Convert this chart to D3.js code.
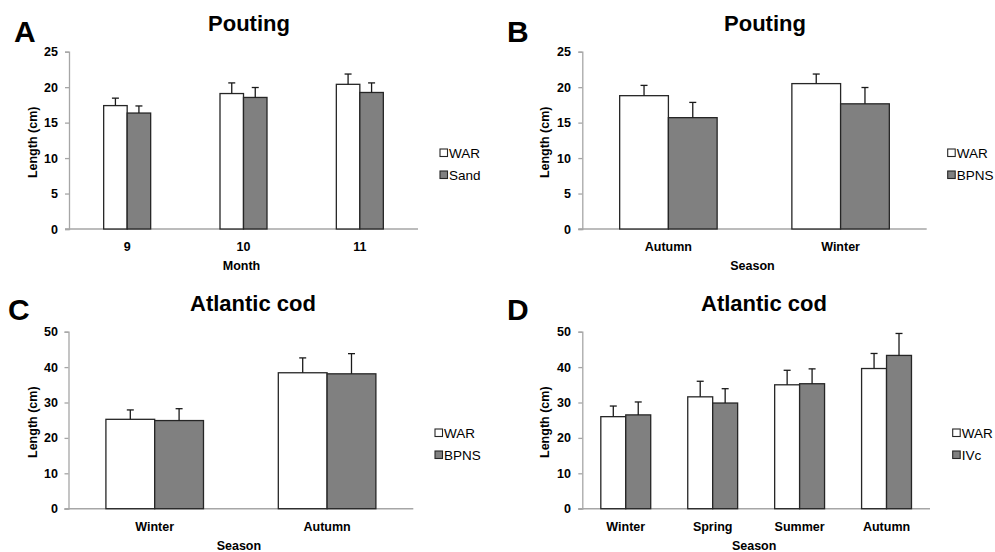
<!DOCTYPE html>
<html><head><meta charset="utf-8">
<script src="https://cdn.jsdelivr.net/npm/d3@7"></script>
<style>
html,body{margin:0;padding:0;background:#fff;}
svg{display:block;font-family:"Liberation Sans",Arial,sans-serif;}
</style></head>
<body><svg id="chart" width="995" height="552"></svg>
<script>
// ---- Data ----
const seriesA = ["WAR", "Sand"];
const catsA = ["9", "10", "11"];
const warA = [17.4, 19.1, 20.4];
const warErrA = [1.05, 1.5, 1.45];
const sandA = [16.35, 18.55, 19.25];
const sandErrA = [1.0, 1.4, 1.35];
const ticksA = [0, 5, 10, 15, 20, 25];

const seriesB = ["WAR", "BPNS"];
const catsB = ["Autumn", "Winter"];
const warB = [18.8, 20.5];
const warErrB = [1.45, 1.35];
const bpnsB = [15.7, 17.65];
const bpnsErrB = [2.15, 2.3];
const ticksB = [0, 5, 10, 15, 20, 25];

const seriesC = ["WAR", "BPNS"];
const catsC = ["Winter", "Autumn"];
const warC = [25.25, 38.4];
const warErrC = [2.65, 4.2];
const bpnsC = [24.9, 38.1];
const bpnsErrC = [3.35, 5.7];
const ticksC = [0, 10, 20, 30, 40, 50];

const seriesD = ["WAR", "IVc"];
const catsD = ["Winter", "Spring", "Summer", "Autumn"];
const warD = [26.0, 31.6, 35.0, 39.6];
const warErrD = [3.0, 4.4, 4.1, 4.25];
const ivcD = [26.5, 29.85, 35.3, 43.3];
const ivcErrD = [3.65, 4.05, 4.2, 6.2];
const ticksD = [0, 10, 20, 30, 40, 50];

// ---- Layout ----
const panels = [
  {letter:"A", title:"Pouting", xLabel:"Month", series:seriesA, cats:catsA, vals:[warA,sandA], errs:[warErrA,sandErrA], ticks:ticksA, yMax:25,
   x0:69, x1:418, yTop:51.7, yZero:229, barFrac:0.202, titleX:249, titleY:31, letterX:14, letterY:42,
   ylabX:33, tickEnd:58, xTickY:247, xLabY:266, legX:440, legY:[153,175]},
  {letter:"B", title:"Pouting", xLabel:"Season", series:seriesB, cats:catsB, vals:[warB,bpnsB], errs:[warErrB,bpnsErrB], ticks:ticksB, yMax:25,
   x0:582.3, x1:926.7, yTop:51.7, yZero:229, barFrac:0.283, titleX:765, titleY:31, letterX:507, letterY:42,
   ylabX:545, tickEnd:571, xTickY:247, xLabY:266, legX:947.7, legY:[153,175]},
  {letter:"C", title:"Atlantic cod", xLabel:"Season", series:seriesC, cats:catsC, vals:[warC,bpnsC], errs:[warErrC,bpnsErrC], ticks:ticksC, yMax:50,
   x0:68.5, x1:413.3, yTop:331.7, yZero:508.7, barFrac:0.283, titleX:253, titleY:310.5, letterX:8, letterY:320,
   ylabX:33, tickEnd:58, xTickY:526.7, xLabY:545.7, legX:435, legY:[433,455]},
  {letter:"D", title:"Atlantic cod", xLabel:"Season", series:seriesD, cats:catsD, vals:[warD,ivcD], errs:[warErrD,ivcErrD], ticks:ticksD, yMax:50,
   x0:582.3, x1:930, yTop:331.7, yZero:508.7, barFrac:0.287, titleX:764, titleY:310.5, letterX:507, letterY:320,
   ylabX:545, tickEnd:571, xTickY:526.7, xLabY:545.7, legX:952.7, legY:[433,455]}
];
const fills = ["#ffffff", "#808080"];
const axisColor = "#a6a6a6";

const svg = d3.select("#chart");

panels.forEach(p => {
  const g = svg.append("g");
  const x = d3.scaleBand().domain(p.cats).range([p.x0, p.x1]).padding(0);
  const y = d3.scaleLinear().domain([0, p.yMax]).range([p.yZero, p.yTop]);
  const bw = x.bandwidth() * p.barFrac;

  // y axis
  const yAxis = d3.axisLeft(y).tickValues(p.ticks).tickSize(4).tickPadding(0);
  const ya = g.append("g").attr("transform", `translate(${p.x0},0)`).call(yAxis);
  ya.select(".domain").attr("stroke", axisColor).attr("stroke-width", 1.3);
  ya.selectAll(".tick line").attr("stroke", axisColor).attr("stroke-width", 1.3);
  ya.selectAll(".tick text").attr("x", p.tickEnd - p.x0).attr("fill", "#000")
    .style("font-size", "12.5px").style("font-weight", "bold").attr("font-family", null);

  // x axis
  const xAxis = d3.axisBottom(x).tickSize(0).tickPadding(0);
  const xa = g.append("g").attr("transform", `translate(0,${p.yZero})`).call(xAxis);
  xa.select(".domain").attr("stroke", axisColor).attr("stroke-width", 1.6).attr("d", `M${p.x0 - 4},0H${p.x1}`);
  xa.selectAll(".tick text").attr("y", p.xTickY - p.yZero).attr("dy", "0.35em").attr("fill", "#000")
    .style("font-size", "12.5px").style("font-weight", "bold").attr("font-family", null);

  // bars
  p.series.forEach((s, si) => {
    const data = p.cats.map((c, i) => ({c, v: p.vals[si][i], e: p.errs[si][i]}));
    const bx = d => x(d.c) + x.bandwidth() / 2 - bw + si * bw;
    g.selectAll(null).data(data).enter().append("rect")
      .attr("x", bx).attr("y", d => y(d.v)).attr("width", bw).attr("height", d => y(0) - y(d.v))
      .attr("fill", fills[si]).attr("stroke", "#262626").attr("stroke-width", 1.3);
    // error bars
    const eg = g.selectAll(null).data(data).enter().append("g").attr("stroke", "#1a1a1a").attr("stroke-width", 1.3);
    eg.append("line").attr("x1", d => bx(d) + bw / 2).attr("x2", d => bx(d) + bw / 2)
      .attr("y1", d => y(d.v)).attr("y2", d => y(d.v + d.e));
    eg.append("line").attr("x1", d => bx(d) + bw / 2 - 3.5).attr("x2", d => bx(d) + bw / 2 + 3.5)
      .attr("y1", d => y(d.v + d.e)).attr("y2", d => y(d.v + d.e));
  });

  // titles & labels
  g.append("text").attr("x", p.titleX).attr("y", p.titleY).attr("text-anchor", "middle")
    .style("font-size", "22px").style("font-weight", "bold").text(p.title);
  g.append("text").attr("x", p.letterX).attr("y", p.letterY)
    .style("font-size", "30px").style("font-weight", "bold").text(p.letter);
  g.append("text").attr("transform", `translate(${p.ylabX},${(p.yTop + p.yZero) / 2 + 2}) rotate(-90)`)
    .attr("text-anchor", "middle").attr("dy", "0.35em")
    .style("font-size", "12.5px").style("font-weight", "bold").text("Length (cm)");
  g.append("text").attr("x", (p.x0 + p.x1) / 2 - 2).attr("y", p.xLabY).attr("dy", "0.35em").attr("text-anchor", "middle")
    .style("font-size", "12.5px").style("font-weight", "bold").text(p.xLabel);

  // legend
  p.series.forEach((s, si) => {
    g.append("rect").attr("x", p.legX).attr("y", p.legY[si] - 4).attr("width", 7.5).attr("height", 7.5)
      .attr("fill", fills[si]).attr("stroke", "#262626").attr("stroke-width", 1.1);
    g.append("text").attr("x", p.legX + 9).attr("y", p.legY[si]).attr("dy", "0.35em")
      .style("font-size", "13.5px").text(s);
  });
});
</script></body></html>
